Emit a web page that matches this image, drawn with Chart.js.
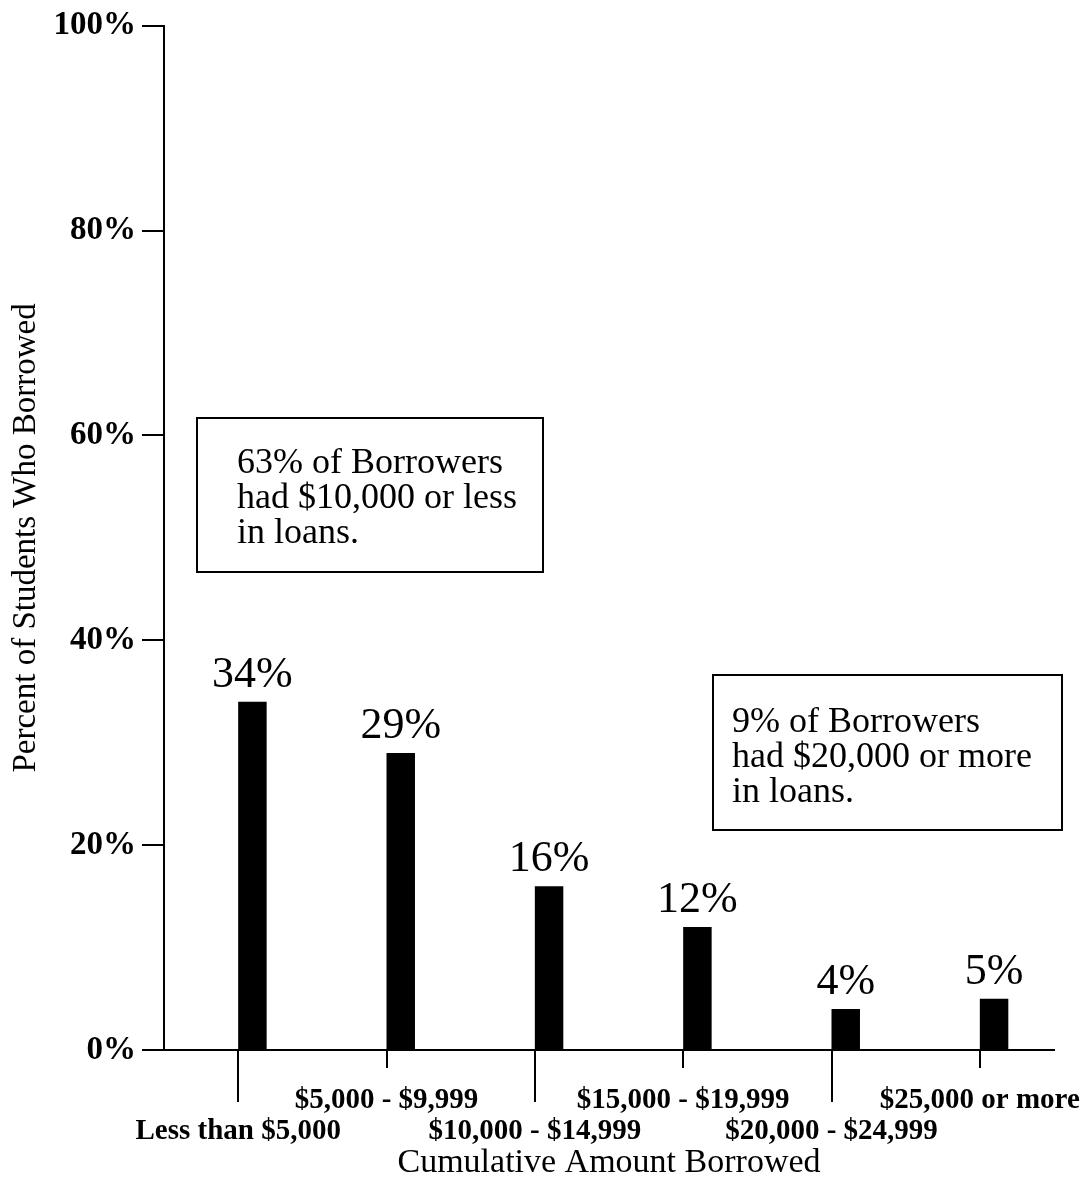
<!DOCTYPE html>
<html>
<head>
<meta charset="utf-8">
<script src="https://cdn.jsdelivr.net/npm/chart.js@4/dist/chart.umd.min.js"></script>
<style>
  html, body { margin: 0; padding: 0; background: #ffffff; }
  #wrap { width: 1083px; height: 1182px; }
</style>
</head>
<body>
<div id="wrap"><canvas id="chart" width="1083" height="1182"></canvas></div>
<script>
// Loan amount brackets and share of borrowers in each
const categories = [
  'Less than $5,000',
  '$5,000 - $9,999',
  '$10,000 - $14,999',
  '$15,000 - $19,999',
  '$20,000 - $24,999',
  '$25,000 or more'
];
const percentBorrowed = [34, 29, 16, 12, 4, 5];
const yTickValues = [0, 20, 40, 60, 80, 100];
const noteLow = ['63% of Borrowers', 'had $10,000 or less', 'in loans.'];
const noteHigh = ['9% of Borrowers', 'had $20,000 or more', 'in loans.'];

const SERIF = '"Liberation Serif", "Times New Roman", serif';
const INK = '#000000';

// Tick marks hanging below the x axis: long under the lower label row, short under the upper row
const hangingTicks = {
  id: 'hangingTicks',
  afterDraw(chart) {
    const x = chart.scales.x;
    const ctx = chart.ctx;
    ctx.save();
    ctx.strokeStyle = INK;
    ctx.lineWidth = 2;
    x.ticks.forEach((t, i) => {
      const px = Math.round(x.getPixelForTick(i));
      const len = i % 2 === 0 ? 52 : 18;
      ctx.beginPath();
      ctx.moveTo(px, x.top);
      ctx.lineTo(px, x.top + len);
      ctx.stroke();
    });
    ctx.restore();
  }
};

// Percentage printed above each bar
const barValues = {
  id: 'barValues',
  afterDatasetsDraw(chart) {
    const ctx = chart.ctx;
    const meta = chart.getDatasetMeta(1);
    ctx.save();
    ctx.fillStyle = INK;
    ctx.font = '44px ' + SERIF;
    ctx.textAlign = 'center';
    ctx.textBaseline = 'alphabetic';
    meta.data.forEach((bar, i) => {
      ctx.fillText(percentBorrowed[i] + '%', bar.x, bar.y - 15);
    });
    ctx.restore();
  }
};

// Framed notes
function drawNote(ctx, lines, box, textX, firstBaseline, lineGap) {
  ctx.strokeStyle = INK;
  ctx.lineWidth = 2;
  ctx.strokeRect(box.x, box.y, box.w, box.h);
  ctx.fillStyle = INK;
  ctx.font = '36px ' + SERIF;
  ctx.textAlign = 'left';
  ctx.textBaseline = 'alphabetic';
  lines.forEach((line, i) => ctx.fillText(line, textX, firstBaseline + i * lineGap));
}
const notes = {
  id: 'notes',
  afterDraw(chart) {
    const ctx = chart.ctx;
    ctx.save();
    drawNote(ctx, noteLow, { x: 197, y: 418, w: 346, h: 154 }, 237, 473, 35);
    drawNote(ctx, noteHigh, { x: 713, y: 675, w: 349, h: 155 }, 732, 732, 35);
    ctx.restore();
  }
};

new Chart(document.getElementById('chart'), {
  type: 'bar',
  data: {
    labels: categories,
    datasets: [
      {
        // empty leading slot so each bar starts at its bracket's tick
        label: 'slot',
        data: categories.map(() => null),
        backgroundColor: 'rgba(0,0,0,0)'
      },
      {
        label: 'Percent of Students Who Borrowed',
        data: percentBorrowed,
        backgroundColor: INK,
        borderWidth: 0
      }
    ]
  },
  options: {
    responsive: false,
    animation: false,
    devicePixelRatio: 1,
    categoryPercentage: 0.384,
    barPercentage: 1.0,
    layout: { padding: { top: 24, right: 29, bottom: 0, left: 0 } },
    plugins: {
      legend: { display: false },
      tooltip: { enabled: false }
    },
    scales: {
      x: {
        type: 'category',
        offset: true,
        grid: { display: false },
        border: { display: true, color: INK, width: 2 },
        ticks: {
          color: INK,
          padding: 27,
          maxRotation: 0,
          minRotation: 0,
          autoSkip: false,
          font: { family: SERIF, size: 29, weight: 'bold', lineHeight: 1.07 },
          callback: (value, index) => index % 2 === 0 ? ['', categories[index]] : categories[index]
        },
        title: {
          display: true,
          text: 'Cumulative Amount Borrowed',
          color: INK,
          font: { family: SERIF, size: 34, lineHeight: 1.0 },
          padding: { top: 0, bottom: 2 }
        },
        afterFit(scale) {
          scale.height = 132;
          scale.paddingLeft = 0;
          scale.paddingRight = 0;
        }
      },
      y: {
        min: 0,
        max: 100,
        afterBuildTicks(scale) { scale.ticks = yTickValues.map(v => ({ value: v })); },
        grid: {
          display: true,
          drawOnChartArea: false,
          drawTicks: true,
          tickLength: 22,
          color: INK,
          lineWidth: 2
        },
        border: { display: true, color: INK, width: 2 },
        ticks: {
          color: INK,
          padding: 6,
          font: { family: SERIF, size: 33, weight: 'bold' },
          callback: v => v + '%'
        },
        title: {
          display: true,
          text: 'Percent of Students Who Borrowed',
          color: INK,
          font: { family: SERIF, size: 33, lineHeight: 1.0 },
          padding: { top: 10, bottom: 0 }
        },
        afterFit(scale) { scale.width = 164; }
      }
    }
  },
  plugins: [hangingTicks, barValues, notes]
});
</script>
</body>
</html>
